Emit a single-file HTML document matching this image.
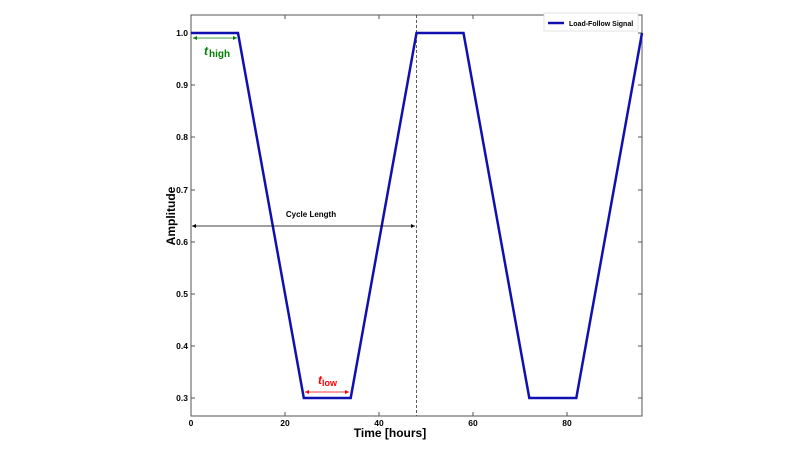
<!DOCTYPE html><html><head><style>body{margin:0;background:#fff}svg{display:block}text{font-family:"Liberation Sans",sans-serif}</style></head><body>
<svg width="800" height="450" viewBox="0 0 800 450">
<defs>
<marker id="k" viewBox="0 0 6 6" refX="6" refY="3" markerWidth="5" markerHeight="5" orient="auto-start-reverse"><path d="M0,0L6,3L0,6z" fill="#000"/></marker>
<marker id="g" viewBox="0 0 6 6" refX="6" refY="3" markerWidth="5" markerHeight="5" orient="auto-start-reverse"><path d="M0,0L6,3L0,6z" fill="green"/></marker>
<marker id="r" viewBox="0 0 6 6" refX="6" refY="3" markerWidth="5" markerHeight="5" orient="auto-start-reverse"><path d="M0,0L6,3L0,6z" fill="red"/></marker></defs>
<rect x="191" y="15" width="451" height="401" fill="none" stroke="#555" stroke-width="1"/>
<g stroke="#555"><line x1="285" y1="416" x2="285" y2="412"/><line x1="379" y1="416" x2="379" y2="412"/><line x1="473" y1="416" x2="473" y2="412"/><line x1="567" y1="416" x2="567" y2="412"/>
<line x1="285" y1="15" x2="285" y2="19"/><line x1="379" y1="15" x2="379" y2="19"/><line x1="473" y1="15" x2="473" y2="19"/><line x1="567" y1="15" x2="567" y2="19"/>
<line x1="191" y1="33" x2="195" y2="33"/><line x1="191" y1="85" x2="195" y2="85"/><line x1="191" y1="137" x2="195" y2="137"/><line x1="191" y1="190" x2="195" y2="190"/><line x1="191" y1="242" x2="195" y2="242"/><line x1="191" y1="294" x2="195" y2="294"/><line x1="191" y1="346" x2="195" y2="346"/><line x1="191" y1="398" x2="195" y2="398"/>
<line x1="642" y1="33" x2="638" y2="33"/><line x1="642" y1="85" x2="638" y2="85"/><line x1="642" y1="137" x2="638" y2="137"/><line x1="642" y1="190" x2="638" y2="190"/><line x1="642" y1="242" x2="638" y2="242"/><line x1="642" y1="294" x2="638" y2="294"/><line x1="642" y1="346" x2="638" y2="346"/><line x1="642" y1="398" x2="638" y2="398"/></g>
<g font-size="8.5" font-weight="bold" text-anchor="end"><text x="188" y="36">1.0</text><text x="188" y="88">0.9</text><text x="188" y="140">0.8</text><text x="188" y="193">0.7</text><text x="188" y="245">0.6</text><text x="188" y="297">0.5</text><text x="188" y="349">0.4</text><text x="188" y="401">0.3</text></g>
<g font-size="8.5" font-weight="bold" text-anchor="middle"><text x="191" y="426">0</text><text x="285" y="426">20</text><text x="379" y="426">40</text><text x="473" y="426">60</text><text x="567" y="426">80</text></g>
<text x="390" y="437" font-size="12" font-weight="bold" text-anchor="middle">Time [hours]</text>
<text transform="translate(175,216) rotate(-90)" font-size="12" font-weight="bold" text-anchor="middle">Amplitude</text>
<line x1="416.5" y1="15" x2="416.5" y2="416" stroke="#333" stroke-width="0.8" stroke-dasharray="3,2"/>
<polyline points="191,33 238,33 303.8,398 350.7,398 416.5,33 463.5,33 529.3,398 576.3,398 642,33" fill="none" stroke="#1010b0" stroke-width="2.5"/>
<line x1="192" y1="226" x2="415" y2="226" stroke="#000" stroke-width="0.8" marker-start="url(#k)" marker-end="url(#k)"/>
<text x="311" y="217" font-size="8" font-weight="bold" text-anchor="middle">Cycle Length</text>
<line x1="193" y1="38" x2="237" y2="38" stroke="green" stroke-width="0.8" marker-start="url(#g)" marker-end="url(#g)"/>
<text x="204" y="55" font-size="12" fill="green" font-style="italic" font-weight="bold" font-family="Liberation Serif">t</text><text x="209" y="57" font-size="10" fill="green" font-weight="bold" font-family="Liberation Serif">high</text>
<line x1="305" y1="392" x2="349" y2="392" stroke="red" stroke-width="0.8" marker-start="url(#r)" marker-end="url(#r)"/>
<text x="318" y="384" font-size="12" fill="red" font-style="italic" font-weight="bold">t</text><text x="322" y="386" font-size="9" fill="red" font-weight="bold">low</text>
<rect x="544" y="13" width="94" height="18" fill="#fff" stroke="#ddd" stroke-width="0.8"/>
<line x1="548" y1="23" x2="564" y2="23" stroke="#1010b0" stroke-width="2.5"/>
<text x="569" y="26" font-size="7" font-weight="bold">Load-Follow Signal</text>
</svg></body></html>
